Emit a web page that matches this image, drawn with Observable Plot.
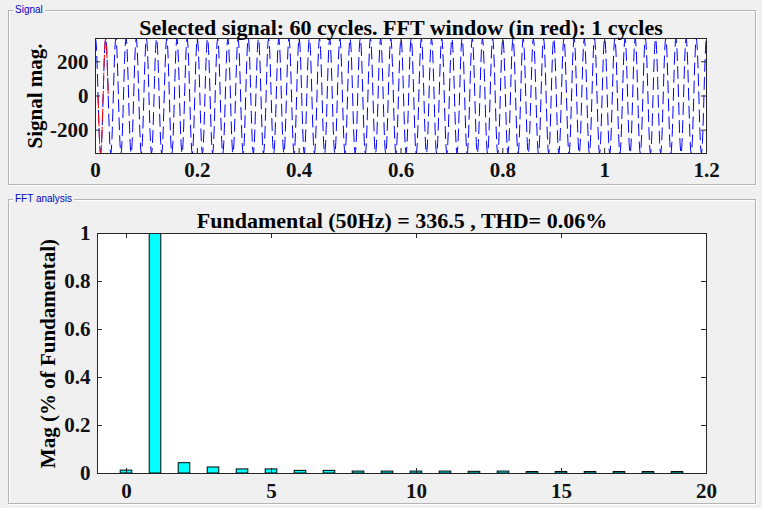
<!DOCTYPE html>
<html>
<head>
<meta charset="utf-8">
<script src="https://cdn.jsdelivr.net/npm/d3@7"></script>
<script src="https://cdn.jsdelivr.net/npm/@observablehq/plot@0.6"></script>
<style>
  body { margin: 0; background: #f0f0f0; width: 762px; height: 508px; overflow: hidden; position: relative; }
  .panel { position: absolute; border: 1px solid #b4b4b4; box-shadow: inset 1px 1px 0 #fff, 1px 1px 0 #fff; }
  .panel span { position: absolute; top: -7px; left: 4px; padding: 0 2px; background: #f0f0f0;
    font: 10px "Liberation Sans", sans-serif; color: #0000c8; line-height: 12px; }
  .chart { position: absolute; left: 0; }
</style>
</head>
<body>
<div class="panel" style="left:8px;top:10px;width:746px;height:173px"><span>Signal</span></div>
<div class="panel" style="left:8px;top:199px;width:746px;height:303px"><span>FFT analysis</span></div>
<div id="signal" class="chart" style="top:0"></div>
<div id="fft" class="chart" style="top:190px"></div>
<script>
// selected signal: one 50 Hz cycle sampled every 1 ms, repeated for 60 cycles
const sampleStep = 0.001
const cycleSamples = [336.5, 320, 272.2, 197.8, 104, 0, -104, -197.8, -272.2, -320,
  -336.5, -320, -272.2, -197.8, -104, 0, 104, 197.8, 272.2, 320]
const cycleCount = 60
const period = 0.02
const windowStart = 0.005   // FFT window (red), 1 cycle
const windowEnd = 0.025

// FFT result, harmonic order vs magnitude (% of fundamental)
const harmonicOrder = [0, 1, 2, 3, 4, 5, 6, 7, 8, 9, 10, 11, 12, 13, 14, 15, 16, 17, 18, 19]
const magPct = [0.012, 100, 0.043, 0.025, 0.017, 0.017, 0.011, 0.011, 0.008, 0.008,
  0.008, 0.008, 0.007, 0.008, 0.006, 0.006, 0.006, 0.006, 0.006, 0.006]

const sigXTicks = [0, 0.2, 0.4, 0.6, 0.8, 1, 1.2]
const sigYTicks = [-200, 0, 200]
const fftXTicks = [0, 5, 10, 15, 20]
const fftYTicks = [0, 0.2, 0.4, 0.6, 0.8, 1]

const sigTitle = 'Selected signal: 60 cycles. FFT window (in red): 1 cycles'
const fftTitle = 'Fundamental (50Hz) = 336.5 , THD= 0.06%'

const signal = []
for (let c = 0; c < cycleCount; c++)
  cycleSamples.forEach((v, i) => signal.push({t: c * period + i * sampleStep, v}))
signal.push({t: cycleCount * period, v: cycleSamples[0]})
const fftWin = signal.filter(d => d.t >= windowStart - 1e-9 && d.t <= windowEnd + 1e-9)

const fft = harmonicOrder.map((h, i) => ({h, mag: magPct[i]}))

const axisCol = '#262626'
const style = {
  fontFamily: "'Liberation Serif', serif", fontSize: '21px', fontWeight: 'bold',
  background: 'transparent', overflow: 'visible', color: '#111'
}
const fmt = d => String(d)
const label = {textAnchor: 'middle', lineAnchor: 'middle', text: d => d, fontWeight: 'bold', fill: '#000'}

// inward ticks on all four sides, like a matlab box
function boxTicks(xt, yt, w, h) {
  const o = {stroke: axisCol, strokeWidth: 1}
  return [
    Plot.tickX(xt, {x: d => d, insetTop: h - 5, ...o}),
    Plot.tickX(xt, {x: d => d, insetBottom: h - 5, ...o}),
    Plot.tickY(yt, {y: d => d, insetRight: w - 5, ...o}),
    Plot.tickY(yt, {y: d => d, insetLeft: w - 5, ...o}),
  ]
}

// top: signal
{
  const m = {top: 38, bottom: 37, left: 95, right: 56}
  const w = 762, h = 190
  let chart = Plot.plot({
    width: w, height: h,
    marginTop: m.top, marginBottom: m.bottom, marginLeft: m.left, marginRight: m.right,
    style,
    x: {domain: [0, 1.2], ticks: sigXTicks, tickSize: 0, tickPadding: 9, tickFormat: fmt, label: null},
    y: {domain: [-336.5, 336.5], ticks: sigYTicks, tickSize: 0, tickPadding: 7, tickFormat: fmt, label: null},
    marks: [
      Plot.frame({fill: 'white'}),
      Plot.line(signal, {x: 't', y: 'v', stroke: '#0000ff', strokeWidth: 1, strokeDasharray: '12,6', clip: true}),
      Plot.line(fftWin, {x: 't', y: 'v', stroke: '#ff0000', strokeWidth: 1, strokeDasharray: '12,6', clip: true}),
      ...boxTicks(sigXTicks, sigYTicks, w - m.left - m.right, h - m.top - m.bottom),
      Plot.frame({stroke: axisCol}),
      Plot.text([sigTitle], {frameAnchor: 'top', dy: -11, fontSize: 22, ...label}),
      Plot.text(['Signal mag.'], {frameAnchor: 'left', dx: -60, rotate: -90, fontSize: 21, ...label}),
    ]
  })
  d3.select('#signal').append(() => chart)
}

// bottom: fft bars
{
  const m = {top: 43, bottom: 35, left: 97, right: 56}
  const w = 762, h = 318
  let chart = Plot.plot({
    width: w, height: h,
    marginTop: m.top, marginBottom: m.bottom, marginLeft: m.left, marginRight: m.right,
    style,
    x: {domain: [-1, 20], ticks: fftXTicks, tickSize: 0, tickPadding: 10, tickFormat: fmt, label: null},
    y: {domain: [0, 1], ticks: fftYTicks, tickSize: 0, tickPadding: 7, tickFormat: fmt, label: null},
    marks: [
      Plot.frame({fill: 'white'}),
      Plot.rect(fft, {x1: d => d.h - 0.2, x2: d => d.h + 0.2, y1: 0, y2: 'mag',
        fill: '#00ffff', stroke: '#000', strokeWidth: 1, clip: true}),
      ...boxTicks(fftXTicks, fftYTicks, w - m.left - m.right, h - m.top - m.bottom),
      Plot.frame({stroke: axisCol}),
      Plot.text([fftTitle], {frameAnchor: 'top', dy: -13, fontSize: 22, ...label}),
      Plot.text(['Mag (% of Fundamental)'], {frameAnchor: 'left', dx: -49, rotate: -90, fontSize: 21, ...label}),
    ]
  })
  d3.select('#fft').append(() => chart)
}
</script>
</body>
</html>
